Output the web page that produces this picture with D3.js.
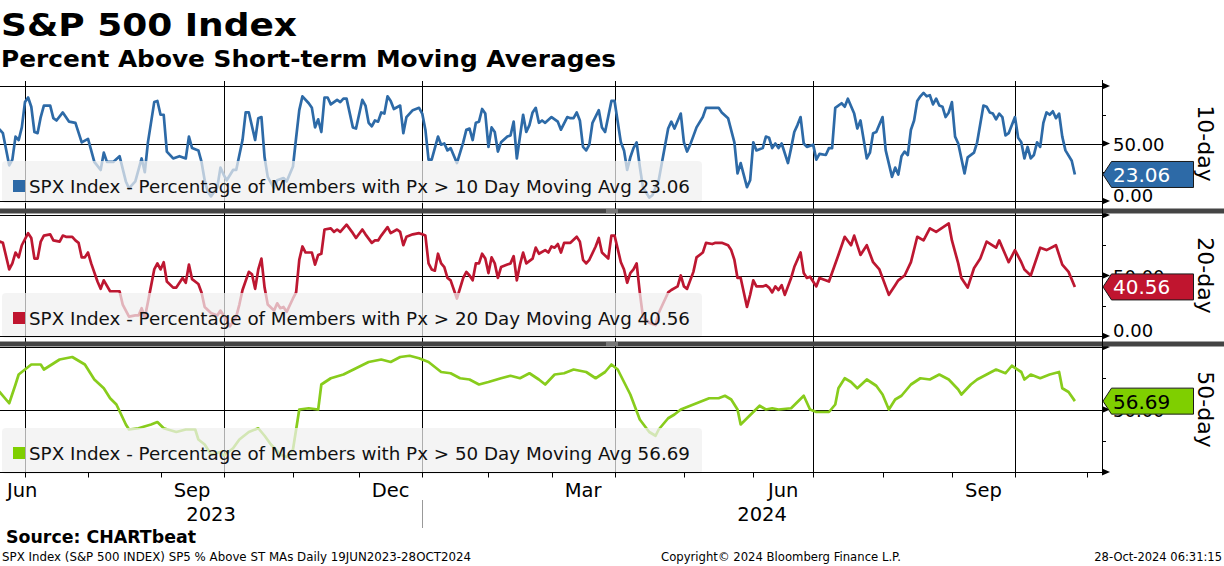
<!doctype html>
<html lang="en">
<head>
<meta charset="utf-8">
<title>S&amp;P 500 Index - Percent Above Short-term Moving Averages</title>
<script src="https://d3js.org/d3.v7.min.js"></script>
<style>
  body { margin: 0; background: #fff; }
  svg { display: block; font-family: "DejaVu Sans", Verdana, sans-serif; }
</style>
</head>
<body>
<svg id="chart" width="1224" height="566"></svg>
<script>
// exchange holidays, used to build the trading-day axis
var holidays = ["2023-07-04", "2023-09-04", "2023-11-23", "2023-12-25", "2024-01-01", "2024-01-15",
  "2024-02-19", "2024-03-29", "2024-05-27", "2024-06-19", "2024-07-04", "2024-09-02"];

// % of members above 10 day moving average
var tenDay = [["2023-06-20",64],["2023-06-21",62],["2023-06-22",59],["2023-06-26",31],["2023-06-27",36],["2023-06-28",56],["2023-06-29",53],["2023-06-30",64],
  ["2023-07-03",86],["2023-07-05",90],["2023-07-06",82],["2023-07-07",60],["2023-07-10",59],["2023-07-11",73],["2023-07-12",83],["2023-07-14",83],["2023-07-17",72],["2023-07-18",70],["2023-07-20",77],["2023-07-24",69],["2023-07-26",68],["2023-07-28",51],
  ["2023-08-01",54],["2023-08-03",34],["2023-08-07",27],["2023-08-08",42],["2023-08-09",34],["2023-08-11",34],["2023-08-15",39],["2023-08-17",17],["2023-08-18",11],["2023-08-22",17],["2023-08-24",37],["2023-08-25",25],["2023-08-28",51],["2023-08-30",86],["2023-08-31",87],
  ["2023-09-01",75],["2023-09-05",75],["2023-09-06",43],["2023-09-08",37],["2023-09-12",39],["2023-09-14",37],["2023-09-15",56],["2023-09-18",46],["2023-09-20",44],["2023-09-21",34],["2023-09-22",18],["2023-09-25",8],["2023-09-26",4],["2023-09-28",12],["2023-09-29",29],
  ["2023-10-02",23],["2023-10-03",18],["2023-10-05",27],["2023-10-06",27],["2023-10-10",53],["2023-10-11",77],["2023-10-12",77],["2023-10-16",53],["2023-10-17",72],["2023-10-18",73],["2023-10-19",38],["2023-10-20",21],["2023-10-24",11],["2023-10-25",18],["2023-10-27",20],["2023-10-30",17],
  ["2023-11-01",30],["2023-11-02",55],["2023-11-03",79],["2023-11-06",91],["2023-11-08",85],["2023-11-09",81],["2023-11-10",64],["2023-11-13",71],["2023-11-14",60],["2023-11-15",90],["2023-11-16",90],["2023-11-17",84],["2023-11-21",88],["2023-11-22",86],["2023-11-24",89],["2023-11-27",89],["2023-11-29",64],["2023-11-30",63],
  ["2023-12-04",88],["2023-12-05",83],["2023-12-06",68],["2023-12-07",65],["2023-12-08",70],["2023-12-11",69],["2023-12-12",77],["2023-12-13",76],["2023-12-14",91],["2023-12-15",87],["2023-12-18",80],["2023-12-20",83],["2023-12-21",59],["2023-12-22",73],["2023-12-27",79],["2023-12-29",81],
  ["2024-01-02",76],["2024-01-03",62],["2024-01-04",36],["2024-01-05",36],["2024-01-09",56],["2024-01-10",49],["2024-01-11",50],["2024-01-12",44],["2024-01-16",46],["2024-01-18",33],["2024-01-22",51],["2024-01-23",62],["2024-01-24",63],["2024-01-25",53],["2024-01-26",68],["2024-01-29",69],["2024-01-30",80],["2024-01-31",76],
  ["2024-02-01",47],["2024-02-02",64],["2024-02-05",60],["2024-02-06",43],["2024-02-07",51],["2024-02-09",56],["2024-02-12",57],["2024-02-13",69],["2024-02-14",37],["2024-02-15",56],["2024-02-16",75],["2024-02-20",60],["2024-02-21",66],["2024-02-22",77],["2024-02-23",81],["2024-02-26",68],["2024-02-27",70],["2024-02-28",68],
  ["2024-03-01",73],["2024-03-05",69],["2024-03-06",62],["2024-03-08",73],["2024-03-11",72],["2024-03-12",72],["2024-03-13",77],["2024-03-14",70],["2024-03-15",47],["2024-03-18",44],["2024-03-19",49],["2024-03-20",68],["2024-03-22",79],["2024-03-25",64],["2024-03-26",60],["2024-03-28",87],
  ["2024-04-01",87],["2024-04-03",51],["2024-04-04",44],["2024-04-05",27],["2024-04-08",38],["2024-04-09",46],["2024-04-10",51],["2024-04-11",30],["2024-04-12",12],["2024-04-16",3],["2024-04-17",5],["2024-04-19",18],["2024-04-22",33],["2024-04-24",63],["2024-04-25",69],["2024-04-26",63],["2024-04-30",76],
  ["2024-05-01",51],["2024-05-02",43],["2024-05-03",49],["2024-05-07",64],["2024-05-09",73],["2024-05-10",81],["2024-05-16",81],["2024-05-17",77],["2024-05-21",72],["2024-05-23",51],["2024-05-24",24],["2024-05-28",33],["2024-05-30",12],["2024-05-31",18],
  ["2024-06-03",51],["2024-06-04",44],["2024-06-06",46],["2024-06-07",56],["2024-06-10",55],["2024-06-11",46],["2024-06-12",50],["2024-06-13",46],["2024-06-14",50],["2024-06-18",33],["2024-06-20",46],["2024-06-21",60],["2024-06-24",66],["2024-06-25",73],["2024-06-26",50],["2024-06-27",47],
  ["2024-07-01",49],["2024-07-02",36],["2024-07-03",41],["2024-07-08",40],["2024-07-09",46],["2024-07-10",46],["2024-07-11",81],["2024-07-15",85],["2024-07-16",82],["2024-07-17",89],["2024-07-19",76],["2024-07-22",63],["2024-07-23",70],["2024-07-25",37],["2024-07-26",42],["2024-07-29",59],["2024-07-30",60],
  ["2024-08-01",73],["2024-08-02",44],["2024-08-06",21],["2024-08-07",29],["2024-08-08",23],["2024-08-09",39],["2024-08-12",43],["2024-08-13",40],["2024-08-14",62],["2024-08-15",70],["2024-08-16",87],["2024-08-19",91],["2024-08-20",94],["2024-08-21",91],["2024-08-22",92],["2024-08-23",84],["2024-08-26",89],["2024-08-27",83],["2024-08-28",82],["2024-08-29",73],["2024-08-30",77],
  ["2024-09-03",86],["2024-09-04",56],["2024-09-05",50],["2024-09-09",24],["2024-09-10",38],["2024-09-12",42],["2024-09-13",51],["2024-09-17",83],["2024-09-18",82],["2024-09-19",77],["2024-09-20",76],["2024-09-23",71],["2024-09-24",76],["2024-09-25",73],["2024-09-26",57],["2024-09-27",59],
  ["2024-10-01",73],["2024-10-02",55],["2024-10-03",51],["2024-10-04",37],["2024-10-07",47],["2024-10-08",37],["2024-10-09",40],["2024-10-10",51],["2024-10-11",47],["2024-10-14",68],["2024-10-15",77],["2024-10-16",75],["2024-10-17",78],["2024-10-18",72],["2024-10-21",76],["2024-10-22",56],["2024-10-23",44],["2024-10-25",35],["2024-10-28",23.06]];

// % of members above 20 day moving average
var twentyDay = [["2023-06-20",79],["2023-06-21",78],["2023-06-22",77],["2023-06-26",55],["2023-06-27",60],["2023-06-28",69],["2023-06-29",65],["2023-06-30",75],
  ["2023-07-05",85],["2023-07-06",81],["2023-07-07",64],["2023-07-10",64],["2023-07-11",78],["2023-07-12",83],["2023-07-14",84],["2023-07-17",79],["2023-07-19",78],["2023-07-20",83],["2023-07-21",82],["2023-07-25",82],["2023-07-26",79],["2023-07-27",77],["2023-07-28",65],["2023-07-31",65],
  ["2023-08-01",69],["2023-08-02",60],["2023-08-04",45],["2023-08-07",39],["2023-08-08",46],["2023-08-10",37],["2023-08-15",37],["2023-08-16",26],["2023-08-18",16],["2023-08-22",17],["2023-08-23",17],["2023-08-24",23],["2023-08-25",15],["2023-08-28",28],["2023-08-30",55],["2023-08-31",60],
  ["2023-09-01",55],["2023-09-05",61],["2023-09-06",45],["2023-09-08",40],["2023-09-11",40],["2023-09-13",48],["2023-09-14",44],["2023-09-15",59],["2023-09-18",47],["2023-09-20",43],["2023-09-21",36],["2023-09-22",24],["2023-09-26",19],["2023-09-28",17],["2023-09-29",21],
  ["2023-10-03",13],["2023-10-04",8],["2023-10-06",16],["2023-10-09",26],["2023-10-10",38],["2023-10-12",53],["2023-10-13",51],["2023-10-16",39],["2023-10-17",55],["2023-10-18",64],["2023-10-19",40],["2023-10-20",26],["2023-10-24",21],["2023-10-25",27],["2023-10-26",23],["2023-10-27",24],["2023-10-30",20],
  ["2023-11-01",31],["2023-11-02",36],["2023-11-03",63],["2023-11-06",74],["2023-11-07",69],["2023-11-09",69],["2023-11-10",59],["2023-11-13",67],["2023-11-14",68],["2023-11-15",88],["2023-11-17",89],["2023-11-20",86],["2023-11-21",88],["2023-11-22",86],["2023-11-27",92],["2023-11-29",85],["2023-11-30",81],
  ["2023-12-04",88],["2023-12-05",84],["2023-12-07",77],["2023-12-08",79],["2023-12-11",79],["2023-12-12",83],["2023-12-14",90],["2023-12-15",85],["2023-12-19",88],["2023-12-20",86],["2023-12-21",75],["2023-12-22",82],["2023-12-27",84],["2023-12-29",85],
  ["2024-01-02",84],["2024-01-03",83],["2024-01-04",60],["2024-01-05",55],["2024-01-08",54],["2024-01-09",68],["2024-01-10",60],["2024-01-11",57],["2024-01-12",48],["2024-01-16",46],["2024-01-18",31],["2024-01-22",48],["2024-01-23",53],["2024-01-24",50],["2024-01-25",46],["2024-01-26",60],["2024-01-29",60],["2024-01-30",68],["2024-01-31",64],
  ["2024-02-01",52],["2024-02-02",65],["2024-02-05",60],["2024-02-06",48],["2024-02-07",57],["2024-02-09",59],["2024-02-12",60],["2024-02-13",66],["2024-02-14",46],["2024-02-15",59],["2024-02-16",69],["2024-02-20",60],["2024-02-22",64],["2024-02-23",73],["2024-02-26",68],["2024-02-28",71],["2024-02-29",69],
  ["2024-03-01",74],["2024-03-04",73],["2024-03-05",76],["2024-03-06",69],["2024-03-07",77],["2024-03-11",77],["2024-03-13",82],["2024-03-14",78],["2024-03-15",63],["2024-03-18",60],["2024-03-19",63],["2024-03-21",74],["2024-03-22",81],["2024-03-25",69],["2024-03-27",64],["2024-03-28",83],
  ["2024-04-01",83],["2024-04-03",61],["2024-04-04",55],["2024-04-05",44],["2024-04-08",52],["2024-04-09",55],["2024-04-10",60],["2024-04-11",36],["2024-04-12",16],["2024-04-16",11],["2024-04-18",9],["2024-04-19",19],["2024-04-24",36],["2024-04-25",38],["2024-04-29",41],["2024-04-30",50],
  ["2024-05-01",41],["2024-05-02",39],["2024-05-06",53],["2024-05-07",65],["2024-05-09",69],["2024-05-10",77],["2024-05-14",76],["2024-05-15",77],["2024-05-17",77],["2024-05-21",75],["2024-05-22",71],["2024-05-23",63],["2024-05-24",48],["2024-05-28",48],["2024-05-29",36],["2024-05-30",24],["2024-05-31",34],
  ["2024-06-03",46],["2024-06-04",41],["2024-06-06",41],["2024-06-07",42],["2024-06-10",40],["2024-06-11",36],["2024-06-12",41],["2024-06-13",38],["2024-06-14",42],["2024-06-17",34],["2024-06-20",48],["2024-06-21",57],["2024-06-25",69],["2024-06-26",52],["2024-06-27",48],["2024-06-28",49],
  ["2024-07-02",41],["2024-07-03",48],["2024-07-09",45],["2024-07-12",67],["2024-07-16",82],["2024-07-18",75],["2024-07-19",83],["2024-07-23",67],["2024-07-25",75],["2024-07-29",61],["2024-07-31",55],
  ["2024-08-05",34],["2024-08-07",42],["2024-08-08",46],["2024-08-12",50],["2024-08-14",61],["2024-08-16",82],["2024-08-20",79],["2024-08-22",89],["2024-08-26",86],["2024-08-30",93],
  ["2024-09-03",79],["2024-09-05",60],["2024-09-06",48],["2024-09-10",40],["2024-09-12",56],["2024-09-16",64],["2024-09-18",78],["2024-09-23",73],["2024-09-24",79],["2024-09-26",67],["2024-09-27",61],
  ["2024-10-01",71],["2024-10-03",61],["2024-10-04",55],["2024-10-08",50],["2024-10-11",73],["2024-10-15",71],["2024-10-18",75],["2024-10-22",59],["2024-10-24",53],["2024-10-28",40.56]];

// % of members above 50 day moving average
var fiftyDay = [["2023-06-20",66],["2023-06-21",64],["2023-06-26",55],["2023-06-28",70],["2023-06-29",78],["2023-07-06",86],["2023-07-11",86],["2023-07-12",82],["2023-07-19",90],["2023-07-25",92],["2023-07-31",86],
  ["2023-08-03",74],["2023-08-08",67],["2023-08-10",59],["2023-08-14",54],["2023-08-17",38],["2023-08-18",34],["2023-08-23",35],["2023-08-29",38],["2023-08-31",40],
  ["2023-09-05",35],["2023-09-11",32],["2023-09-14",34],["2023-09-19",34],["2023-09-20",26],["2023-09-22",22],["2023-09-26",14],["2023-09-29",16],
  ["2023-10-02",13],["2023-10-05",19],["2023-10-09",26],["2023-10-12",32],["2023-10-17",35],["2023-10-19",29],["2023-10-23",22],["2023-10-26",14],["2023-10-30",12],
  ["2023-11-01",18],["2023-11-02",34],["2023-11-03",50],["2023-11-08",51],["2023-11-13",50],["2023-11-14",70],["2023-11-17",75],["2023-11-24",78],["2023-11-30",83],
  ["2023-12-06",88],["2023-12-12",90],["2023-12-15",88],["2023-12-20",92],["2023-12-26",93],["2023-12-29",91],
  ["2024-01-04",88],["2024-01-10",80],["2024-01-16",79],["2024-01-19",75],["2024-01-24",74],["2024-01-29",70],["2024-02-01",72],["2024-02-07",75],["2024-02-12",77],["2024-02-15",75],["2024-02-21",79],["2024-02-26",74],["2024-02-28",70],
  ["2024-03-04",78],["2024-03-07",79],["2024-03-12",82],["2024-03-18",80],["2024-03-21",75],["2024-03-26",80],["2024-03-28",86],
  ["2024-04-02",82],["2024-04-04",72],["2024-04-08",62],["2024-04-11",42],["2024-04-16",32],["2024-04-18",29],["2024-04-19",34],["2024-04-24",43],["2024-04-26",46],["2024-04-30",50],
  ["2024-05-03",53],["2024-05-08",56],["2024-05-13",59],["2024-05-16",59],["2024-05-20",61],["2024-05-22",58],["2024-05-24",50],["2024-05-28",38],["2024-05-30",43],
  ["2024-06-03",48],["2024-06-05",53],["2024-06-07",50],["2024-06-11",51],["2024-06-13",50],["2024-06-20",51],["2024-06-24",56],["2024-06-26",61],["2024-06-28",50],
  ["2024-07-02",48],["2024-07-09",48],["2024-07-11",54],["2024-07-12",67],["2024-07-16",75],["2024-07-18",72],["2024-07-22",67],["2024-07-25",74],["2024-07-30",69],
  ["2024-08-01",62],["2024-08-05",50],["2024-08-07",58],["2024-08-09",61],["2024-08-14",70],["2024-08-19",75],["2024-08-22",74],["2024-08-27",78],["2024-08-30",74],
  ["2024-09-05",66],["2024-09-06",62],["2024-09-11",70],["2024-09-13",74],["2024-09-18",78],["2024-09-23",82],["2024-09-26",79],["2024-09-30",85],
  ["2024-10-03",80],["2024-10-04",74],["2024-10-08",78],["2024-10-11",75],["2024-10-16",78],["2024-10-21",80],["2024-10-22",67],["2024-10-24",64],["2024-10-28",56.69]];

var periods = [10, 20, 50];
var panelNames = ["10-day", "20-day", "50-day"];
var monthLabels = ["2023-06", "2023-09", "2023-12", "2024-03", "2024-06", "2024-09"];
var yearLabels = [2023, 2024];

var svg = d3.select("#chart");
var plotRight = 1102;

var fmt = d3.timeFormat("%Y-%m-%d"), parse = d3.timeParse("%Y-%m-%d");
var holidaySet = new Set(holidays);
var days = d3.timeDay.range(parse("2023-06-20"), parse("2024-11-13"))
  .filter(function(d) { return d.getDay() % 6 !== 0 && !holidaySet.has(fmt(d)); });
function pos(s) { return d3.bisectLeft(days, parse(s)); }

// x runs on trading days, like the terminal does
var x = d3.scaleLinear().domain([1.08, 350.6]).range([0, plotRight]);

var panels = [
  { data: tenDay, top: 86, bottom: 201, boxTop: 161, color: "#2d6aa7", tag: "#2d6aa7", tagText: "#fff", labels: [50, 0] },
  { data: twentyDay, top: 215, bottom: 336, boxTop: 293, color: "#bd1731", tag: "#c0152f", tagText: "#fff", labels: [50, 0] },
  { data: fiftyDay, top: 347, bottom: 472, boxTop: 428, color: "#88cc1c", tag: "#7fcf00", tagText: "#000", labels: [50] }
];

svg.append("defs").append("clipPath").attr("id", "plot")
  .append("rect").attr("x", 0).attr("y", 0).attr("width", plotRight).attr("height", 566);

// month / quarter starts
var monthStarts = [];
days.forEach(function(d, i) {
  if (i > 0 && d.getMonth() !== days[i - 1].getMonth()) monthStarts.push(i);
});
var quarterStarts = monthStarts.filter(function(i) { return days[i].getMonth() % 3 === 0; });

// vertical quarter grid
svg.append("g").selectAll("line").data(quarterStarts).enter().append("line")
  .attr("x1", function(i) { return Math.round(x(i)) + 0.5; })
  .attr("x2", function(i) { return Math.round(x(i)) + 0.5; })
  .attr("y1", 81).attr("y2", 473)
  .attr("stroke", "#000").attr("stroke-width", 1);

panels.forEach(function(p, k) {
  var y = d3.scaleLinear().domain([0, 100]).range([p.bottom, p.top]);
  var g = svg.append("g");

  g.selectAll("line.grid").data([100, 50]).enter().append("line").attr("class", "grid")
    .attr("x1", 0).attr("x2", plotRight)
    .attr("y1", function(v) { return Math.round(y(v)) + 0.5; })
    .attr("y2", function(v) { return Math.round(y(v)) + 0.5; })
    .attr("stroke", "#000");

  var line = d3.line()
    .x(function(d) { return x(pos(d[0])); })
    .y(function(d) { return y(d[1]); });

  g.append("path").datum(p.data)
    .attr("clip-path", "url(#plot)")
    .attr("d", line)
    .attr("fill", "none")
    .attr("stroke", p.color)
    .attr("stroke-width", 2.7)
    .attr("stroke-linejoin", "round");

  // legend box sits on top of the line, semi-transparent
  g.append("rect")
    .attr("x", 2).attr("y", p.boxTop)
    .attr("width", 700).attr("height", p.bottom - p.boxTop + 2)
    .attr("rx", 4)
    .attr("fill", "#f0f0f0").attr("fill-opacity", 0.72);

  var last = p.data[p.data.length - 1][1];
  var ty = p.boxTop + 32;
  g.append("rect").attr("x", 13).attr("y", ty - 13).attr("width", 12).attr("height", 12).attr("fill", p.tag);
  g.append("text").attr("x", 29).attr("y", ty)
    .attr("font-size", 18.5).attr("fill", "#111")
    .attr("textLength", 661).attr("lengthAdjust", "spacingAndGlyphs")
    .text("SPX Index - Percentage of Members with Px > " + periods[k] + " Day Moving Avg " + last.toFixed(2));

  g.append("line").attr("x1", 0).attr("x2", plotRight)
    .attr("y1", Math.round(y(0)) + 0.5).attr("y2", Math.round(y(0)) + 0.5)
    .attr("stroke", "#000");

  // right axis ticks
  g.selectAll("path.major").data([0, 50, 100]).enter().append("path").attr("class", "major")
    .attr("d", function(v) { var t = y(v); return "M1102," + (t - 3.5) + "L1110," + t + "L1102," + (t + 3.5) + "Z"; })
    .attr("fill", "#000");
  g.selectAll("line.minor").data([25, 75]).enter().append("line").attr("class", "minor")
    .attr("x1", 1102).attr("x2", 1106)
    .attr("y1", function(v) { return Math.round(y(v)) + 0.5; })
    .attr("y2", function(v) { return Math.round(y(v)) + 0.5; })
    .attr("stroke", "#000");

  // axis labels sit behind the value tag, as on the terminal
  g.selectAll("text.ylab").data(p.labels).enter().append("text").attr("class", "ylab")
    .attr("x", 1113)
    .attr("y", function(v) { return v === 0 ? y(0) + 1 : y(v) + 7; })
    .attr("font-size", 18).attr("fill", "#000")
    .text(function(v) { return v.toFixed(2); });

  // last value tag
  var yv = y(last);
  g.append("path")
    .attr("d", "M1103," + yv + "L1111.5," + (yv - 13) + "L1193.5," + (yv - 13) + "L1193.5," + (yv + 13) + "L1111.5," + (yv + 13) + "Z")
    .attr("fill", p.tag).attr("stroke", "#1a1a1a").attr("stroke-width", 1);
  g.append("text").attr("x", 1113).attr("y", yv + 7.5)
    .attr("font-size", 20).attr("fill", p.tagText)
    .text(last.toFixed(2));

  g.append("text")
    .attr("transform", "translate(1198," + y(50) + ") rotate(90)")
    .attr("text-anchor", "middle")
    .attr("font-size", 22).attr("fill", "#000")
    .text(panelNames[k]);
});

// separators between panels
[208.5, 341.5].forEach(function(s) {
  svg.append("rect").attr("x", 0).attr("y", s).attr("width", 1224).attr("height", 5).attr("fill", "#444");
  svg.append("line").attr("x1", 606).attr("x2", 618).attr("y1", s + 1.5).attr("y2", s + 1.5).attr("stroke", "#aaa");
  svg.append("line").attr("x1", 606).attr("x2", 618).attr("y1", s + 3.5).attr("y2", s + 3.5).attr("stroke", "#aaa");
});

// right axis line
svg.append("line").attr("x1", 1102.5).attr("x2", 1102.5).attr("y1", 80).attr("y2", 474).attr("stroke", "#000");

// bottom time axis
var axisY = 472.5;
svg.append("line").attr("x1", 0).attr("x2", plotRight).attr("y1", axisY).attr("y2", axisY).attr("stroke", "#000");
svg.append("g").selectAll("line").data(monthStarts.filter(function(i) { return x(i) > 0 && x(i) < plotRight; }))
  .enter().append("line")
  .attr("x1", function(i) { return Math.round(x(i)) + 0.5; })
  .attr("x2", function(i) { return Math.round(x(i)) + 0.5; })
  .attr("y1", axisY).attr("y2", axisY + 5)
  .attr("stroke", "#000");

monthLabels.forEach(function(m) {
  var first = days.findIndex(function(d) { return fmt(d).slice(0, 7) === m; });
  var next = monthStarts.find(function(i) { return i > first; });
  var cx = (x(first) + x(next)) / 2;
  var t = svg.append("text").attr("y", 497).attr("font-size", 19.5).attr("fill", "#000")
    .attr("text-anchor", "middle")
    .text(d3.timeFormat("%b")(parse(m + "-01")));
  var w = t.node().getComputedTextLength();
  t.attr("x", Math.max(cx, w / 2 + 7));
});

var yearStart = days.findIndex(function(d) { return d.getFullYear() === 2024; });
var yearEdges = [[0, x(yearStart)], [x(yearStart), plotRight]];
yearLabels.forEach(function(yr, k) {
  svg.append("text").attr("x", (yearEdges[k][0] + yearEdges[k][1]) / 2).attr("y", 521)
    .attr("text-anchor", "middle").attr("font-size", 19.5).attr("fill", "#000")
    .text(yr);
});
svg.append("line")
  .attr("x1", Math.round(x(yearStart)) + 0.5).attr("x2", Math.round(x(yearStart)) + 0.5)
  .attr("y1", 500).attr("y2", 528).attr("stroke", "#999");

// titles
svg.append("text").attr("x", 1).attr("y", 36)
  .attr("font-size", 32).attr("font-weight", "bold").attr("fill", "#000")
  .attr("textLength", 296).attr("lengthAdjust", "spacingAndGlyphs")
  .text("S&P 500 Index");
svg.append("text").attr("x", 1).attr("y", 67)
  .attr("font-size", 23).attr("font-weight", "bold").attr("fill", "#000")
  .attr("textLength", 615).attr("lengthAdjust", "spacingAndGlyphs")
  .text("Percent Above Short-term Moving Averages");

// footer
svg.append("text").attr("x", 6).attr("y", 543)
  .attr("font-size", 17).attr("font-weight", "bold").attr("fill", "#000")
  .attr("textLength", 190).attr("lengthAdjust", "spacingAndGlyphs")
  .text("Source: CHARTbeat");
svg.append("text").attr("x", 2).attr("y", 561)
  .attr("font-size", 11.5).attr("fill", "#000")
  .attr("textLength", 469).attr("lengthAdjust", "spacingAndGlyphs")
  .text("SPX Index (S&P 500 INDEX) SP5 % Above ST MAs  Daily 19JUN2023-28OCT2024");
svg.append("text").attr("x", 661).attr("y", 561)
  .attr("font-size", 11.5).attr("fill", "#000")
  .attr("textLength", 240).attr("lengthAdjust", "spacingAndGlyphs")
  .text("Copyright\u00a9 2024 Bloomberg Finance L.P.");
svg.append("text").attr("x", 1222).attr("y", 561)
  .attr("font-size", 11.5).attr("fill", "#000").attr("text-anchor", "end")
  .text("28-Oct-2024 06:31:15");
</script>
</body>
</html>
